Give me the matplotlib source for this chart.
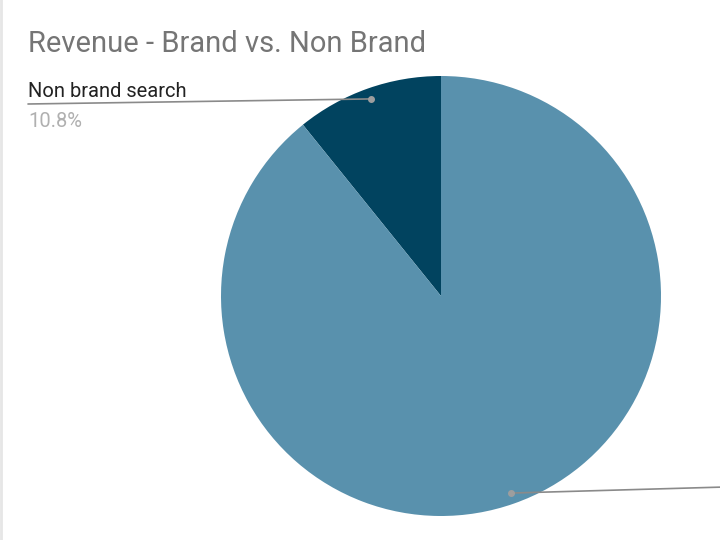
import matplotlib
matplotlib.use("Agg")
import matplotlib.pyplot as plt
import numpy as np

# data
labels = ['Non brand search', 'Brand search']
shares = [10.8, 89.2]
colors = ['#01435f', '#5991ad']

plt.rcParams['font.family'] = ['Roboto', 'DejaVu Sans']


def main() -> None:
    fig = plt.figure(figsize=(7.2, 5.4), dpi=100)
    ax = fig.add_axes([221 / 720, 24 / 540, 440 / 720, 440 / 540])
    wedges, _ = ax.pie(shares, colors=colors, startangle=90, counterclock=True,
                       radius=1.0, wedgeprops=dict(linewidth=0))
    ax.set_xlim(-1, 1)
    ax.set_ylim(-1, 1)
    ax.set_aspect('equal')
    ax.axis('off')

    # leader lines, from a dot in each wedge to the label
    ends = [(28, 436), (725, 53)]
    for w, end in zip(wedges, ends):
        mid = np.deg2rad((w.theta1 + w.theta2) / 2)
        p = (0.95 * np.cos(mid), 0.95 * np.sin(mid))
        ax.plot(*p, 'o', color='#9e9e9e', markersize=4, zorder=5)
        ax.annotate('', xy=p, xycoords='data', xytext=end,
                    textcoords='figure pixels',
                    arrowprops=dict(arrowstyle='-', color='#8a8a8a', lw=1.2,
                                    shrinkA=0, shrinkB=0),
                    annotation_clip=False)

    fig.text(28 / 720, 1 - 52 / 540, 'Revenue - Brand vs. Non Brand',
             fontsize=21, color='#757575', va='baseline', ha='left')
    fig.text(28 / 720, 1 - 97 / 540, labels[0], fontsize=14.5,
             color='#222222', va='baseline', ha='left')
    fig.text(28 / 720, 1 - 127 / 540, f'{shares[0]}%', fontsize=14.5,
             color='#b0b0b0', va='baseline', ha='left')

    fig.add_artist(plt.Line2D([1 / 720, 1 / 720], [0, 1], color='#e6e6e6',
                              lw=2, transform=fig.transFigure))

    fig.savefig('out.png', dpi=100)


if __name__ == "__main__":
    main()
